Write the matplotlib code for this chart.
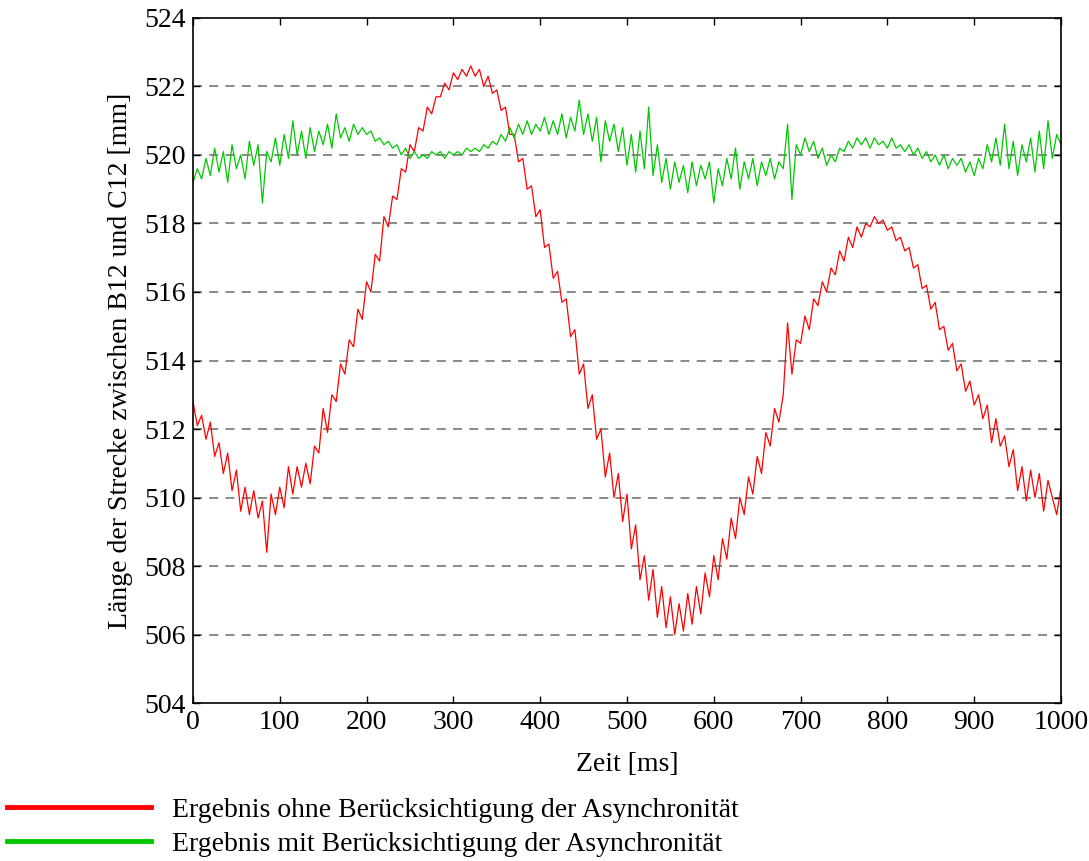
import numpy as np
import matplotlib.pyplot as plt
from matplotlib.lines import Line2D

# values, one sample every 5 ms
zeit = np.arange(0, 1001, 5)

ohne_asynchron = [
    512.8, 512.1, 512.4, 511.7, 512.2, 511.2, 511.6, 510.7, 511.3, 510.2,
    510.8, 509.6, 510.3, 509.5, 510.2, 509.4, 509.9, 508.4, 510.1, 509.5,
    510.3, 509.7, 510.9, 510.1, 510.9, 510.3, 511.0, 510.4, 511.5, 511.3,
    512.6, 511.9, 513.0, 512.8, 513.9, 513.6, 514.6, 514.4, 515.5, 515.2,
    516.3, 516.0, 517.1, 516.9, 518.2, 517.9, 518.8, 518.7, 519.6, 519.5,
    520.3, 520.1, 520.8, 520.7, 521.4, 521.2, 521.7, 521.7, 522.1, 521.9,
    522.4, 522.2, 522.5, 522.3, 522.6, 522.3, 522.5, 522.0, 522.3, 521.8,
    521.9, 521.3, 521.4, 520.6, 520.6, 519.8, 519.9, 519.0, 519.1, 518.2,
    518.4, 517.3, 517.4, 516.4, 516.6, 515.7, 515.8, 514.7, 514.9, 513.6,
    513.9, 512.6, 513.0, 511.7, 512.0, 510.6, 511.3, 510.0, 510.7, 509.3,
    510.1, 508.5, 509.2, 507.6, 508.3, 507.0, 507.9, 506.5, 507.4, 506.2,
    507.1, 506.0, 506.9, 506.1, 507.2, 506.3, 507.4, 506.6, 507.8, 507.1,
    508.3, 507.6, 508.8, 508.2, 509.4, 508.8, 510.0, 509.5, 510.6, 510.1,
    511.2, 510.7, 511.9, 511.5, 512.6, 512.2, 513.0, 515.1, 513.6, 514.6,
    514.5, 515.3, 514.9, 515.8, 515.6, 516.3, 516.0, 516.7, 516.5, 517.2,
    516.9, 517.6, 517.3, 517.9, 517.6, 518.0, 517.9, 518.2, 518.0, 518.1,
    517.8, 517.9, 517.5, 517.6, 517.2, 517.3, 516.7, 516.8, 516.1, 516.2,
    515.5, 515.7, 514.9, 515.0, 514.3, 514.5, 513.7, 513.9, 513.1, 513.4,
    512.7, 513.0, 512.3, 512.7, 511.6, 512.3, 511.5, 511.8, 510.9, 511.4,
    510.2, 510.9, 509.9, 510.8, 510.0, 510.7, 509.6, 510.5, 510.0, 509.5,
    510.3,
]

mit_asynchron = [
    519.2, 519.6, 519.3, 519.9, 519.4, 520.2, 519.5, 520.1, 519.2, 520.3,
    519.6, 520.0, 519.3, 520.4, 519.7, 520.3, 518.6, 520.1, 519.8, 520.5,
    519.7, 520.6, 519.9, 521.0, 520.0, 520.7, 519.9, 520.8, 520.1, 520.7,
    520.3, 520.9, 520.2, 521.2, 520.5, 520.8, 520.4, 520.9, 520.6, 520.8,
    520.6, 520.7, 520.4, 520.5, 520.3, 520.4, 520.2, 520.3, 520.0, 520.2,
    519.9, 520.1, 519.9, 520.0, 519.9, 520.1, 520.0, 520.1, 519.9, 520.1,
    520.0, 520.1, 520.0, 520.2, 520.1, 520.2, 520.1, 520.3, 520.2, 520.4,
    520.3, 520.6, 520.4, 520.8, 520.5, 520.9, 520.6, 521.0, 520.6, 520.9,
    520.7, 521.1, 520.6, 521.0, 520.6, 521.2, 520.5, 521.1, 520.7, 521.6,
    520.6, 521.2, 520.4, 521.1, 519.8, 521.0, 520.4, 520.9, 520.1, 520.8,
    519.7, 520.6, 519.5, 520.7, 519.6, 521.4, 519.4, 520.3, 519.2, 519.9,
    519.0, 519.8, 519.2, 519.7, 518.9, 519.8, 519.1, 519.7, 519.3, 519.8,
    518.6, 519.6, 519.1, 519.9, 519.3, 520.2, 519.0, 519.8, 519.3, 519.9,
    519.1, 519.8, 519.4, 519.9, 519.3, 519.8, 519.6, 520.9, 518.7, 520.3,
    520.0, 520.5, 520.1, 520.4, 519.9, 520.2, 519.7, 520.0, 519.8, 520.2,
    520.1, 520.4, 520.2, 520.5, 520.3, 520.5, 520.2, 520.5, 520.3, 520.4,
    520.2, 520.5, 520.2, 520.3, 520.1, 520.3, 520.0, 520.2, 519.9, 520.1,
    519.8, 520.0, 519.7, 520.0, 519.6, 519.9, 519.7, 519.9, 519.5, 519.8,
    519.4, 519.9, 519.6, 520.3, 519.8, 520.5, 519.7, 520.9, 519.6, 520.4,
    519.4, 520.3, 519.8, 520.5, 519.5, 520.7, 519.6, 521.0, 519.9, 520.6,
    520.3,
]

labels = ['Ergebnis ohne Berücksichtigung der Asynchronität',
          'Ergebnis mit Berücksichtigung der Asynchronität']
farben = ['#ff0000', '#00c800']

plt.rcParams['font.family'] = ['Liberation Serif', 'DejaVu Serif']
plt.rcParams['font.size'] = 20

fig = plt.figure(figsize=(10.89, 8.61), dpi=100)
ax = fig.add_axes([0.1772, 0.1835, 0.7971, 0.7956])

ax.plot(zeit, ohne_asynchron, color=farben[0], lw=0.9)
ax.plot(zeit, mit_asynchron, color=farben[1], lw=0.9)

ax.set_xlim(0, 1000)
ax.set_ylim(504, 524)
ax.set_xticks(np.arange(0, 1001, 100))
ax.set_yticks(np.arange(504, 525, 2))

# only horizontal dashed grid lines, like the MATLAB original
for y in range(506, 523, 2):
    ax.axhline(y, color='#808080', lw=1.3, ls=(0, (5, 4)), zorder=0)

ax.tick_params(direction='in', length=5, width=1, top=True, right=True, pad=5)
for s in ax.spines.values():
    s.set_linewidth(1.2)

ax.set_xlabel('Zeit [ms]', labelpad=12)
ax.set_ylabel('Länge der Strecke zwischen B12 und C12 [mm]', labelpad=8)

handles = [Line2D([], [], color=c, lw=3.5) for c in farben]
fig.legend(handles, labels, loc='upper left', bbox_to_anchor=(0.006, 0.074),
           frameon=False, borderaxespad=0, borderpad=0, handlelength=5.2,
           handletextpad=0.75, labelspacing=0.3)

fig.savefig('out.png', dpi=100)
